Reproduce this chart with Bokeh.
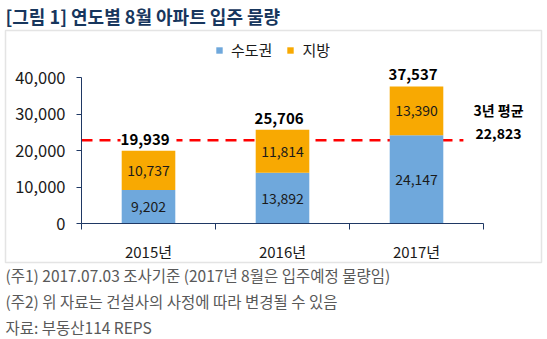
from bokeh.plotting import figure
from bokeh.models import (Range1d, FixedTicker, NumeralTickFormatter, Label, LabelSet,
                          ColumnDataSource, BoxAnnotation, Legend, LegendItem)
from bokeh.core.properties import value
from bokeh.embed import file_html
from bokeh.resources import INLINE

# ---- data ----
years = ["2015년", "2016년", "2017년"]
series_names = ["수도권", "지방"]
capital = [9202, 13892, 24147]
regional = [10737, 11814, 13390]
totals = [19939, 25706, 37537]
average = 22823
avg_title = "3년 평균"
y_ticks = [0, 10000, 20000, 30000, 40000]
title_text = "[그림 1] 연도별 8월 아파트 입주 물량"
notes = ["(주1) 2017.07.03 조사기준 (2017년 8월은 입주예정 물량임)",
         "(주2) 위 자료는 건설사의 사정에 따라 변경될 수 있음",
         "자료: 부동산114 REPS"]

# ---- style / layout ----
FONT = "Noto Sans CJK KR"
BLUE = "#6FA8DC"
ORANGE = "#F8A902"
NAVY = "#1F3864"
TEXT = "#1A1A1A"
GRAY = "#595959"

W, H = 547, 339
PL, PR, PT, PB = 81, 483, 77, 223          # plot area (canvas px)
YMAX = y_ticks[-1]
n = len(years)
xpx = (PR - PL) / n                          # px per category
ypx = (PB - PT) / YMAX                       # px per unit

x_range = Range1d(-PL / xpx, n + (W - PR) / xpx)
y_range = Range1d(-(H - PB) / ypx, YMAX + PT / ypx)

p = figure(width=W, height=H, x_range=x_range, y_range=y_range,
           output_backend="svg", toolbar_location=None, title=None,
           min_border=0, min_border_left=0, min_border_right=0,
           min_border_top=0, min_border_bottom=0)
p.outline_line_color = None
p.xgrid.visible = False
p.ygrid.visible = False
p.background_fill_color = "white"
p.border_fill_color = "white"


def sy(canvas_y):
    return H - canvas_y


xs = [i + 0.5 for i in range(n)]
src = ColumnDataSource(dict(
    x=xs, cap=capital, reg=regional, total=totals,
    cap_mid=[c / 2 for c in capital],
    reg_mid=[c + r / 2 for c, r in zip(capital, regional)],
    cap_lbl=[f"{v:,}" for v in capital],
    reg_lbl=[f"{v:,}" for v in regional],
    tot_lbl=[f" {v:,} " for v in totals],
))

# chart border box
p.add_layout(BoxAnnotation(left=5, right=541, top=sy(30), bottom=sy(262),
                           left_units="screen", right_units="screen",
                           top_units="screen", bottom_units="screen",
                           fill_alpha=0, line_color="#A6A6A6", line_width=1.5,
                           level="underlay"))

# average line (behind bars)
p.segment(x0=0, y0=average, x1=n - 0.15, y1=average, line_color="#FF0000",
          line_width=2.5, line_dash="11 7")

rs = p.vbar_stack(["cap", "reg"], x="x", width=0.4, color=[BLUE, ORANGE],
                  line_color=None, source=src)

# axes drawn at data zero
p.yaxis.fixed_location = 0
p.yaxis.bounds = (0, YMAX)
p.yaxis.ticker = FixedTicker(ticks=y_ticks)
p.yaxis.formatter = NumeralTickFormatter(format="0,0")
p.yaxis.major_tick_out = 5
p.yaxis.major_tick_in = 0
p.yaxis.minor_tick_line_color = None
p.yaxis.axis_line_color = NAVY
p.yaxis.major_tick_line_color = NAVY
p.yaxis.major_label_standoff = 11
p.yaxis.major_label_text_font = FONT
p.yaxis.major_label_text_font_size = "16.5px"
p.yaxis.major_label_text_color = TEXT

p.xaxis.fixed_location = 0
p.xaxis.bounds = (0, n)
p.xaxis.ticker = FixedTicker(ticks=xs, minor_ticks=list(range(n + 1)))
p.xaxis.major_label_overrides = {x: y for x, y in zip(xs, years)}
p.xaxis.major_tick_out = 0
p.xaxis.major_tick_in = 0
p.xaxis.minor_tick_out = 6
p.xaxis.minor_tick_in = 0
p.xaxis.minor_tick_line_color = NAVY
p.xaxis.axis_line_color = NAVY
p.xaxis.major_label_standoff = 11
p.xaxis.major_label_text_font = FONT
p.xaxis.major_label_text_font_size = "15px"
p.xaxis.major_label_text_color = TEXT

# value labels
for ycol, tcol in (("cap_mid", "cap_lbl"), ("reg_mid", "reg_lbl")):
    p.add_layout(LabelSet(x="x", y=ycol, text=tcol, source=src, text_align="center",
                          text_baseline="middle", text_font=value(FONT),
                          text_font_size=value("14px"), text_color=TEXT))
p.add_layout(LabelSet(x="x", y="total", text="tot_lbl", source=src, text_align="center",
                      text_baseline="alphabetic", y_offset=6, text_font=value(FONT),
                      text_font_size=value("15px"), text_font_style="bold",
                      text_color="black", background_fill_color="white"))

# average labels
p.add_layout(Label(x=n, y=average, x_offset=15, y_offset=30, text=avg_title,
                   text_align="center", text_baseline="middle", text_font=FONT,
                   text_font_size="14px", text_font_style="bold", text_color="black"))
p.add_layout(Label(x=n, y=average, x_offset=15, y_offset=7, text=f"{average:,}",
                   text_align="center", text_baseline="middle", text_font=FONT,
                   text_font_size="14px", text_font_style="bold", text_color="black"))

# legend
legend = Legend(items=[LegendItem(label=s, renderers=[r]) for s, r in zip(series_names, rs)],
                orientation="horizontal", location=(215, sy(60)))
legend.border_line_color = None
legend.background_fill_alpha = 0
legend.padding = 0
legend.margin = 0
legend.glyph_width = 8
legend.glyph_height = 8
legend.label_standoff = 8
legend.spacing = 14
legend.label_text_font = FONT
legend.label_text_font_size = "15px"
legend.label_text_color = TEXT
p.add_layout(legend)

# title and notes
p.add_layout(Label(x=5, y=sy(15), x_units="screen", y_units="screen", text=title_text,
                   text_baseline="middle", text_font=FONT, text_font_size="18px",
                   text_font_style="bold", text_color="#17365D"))
for i, t in enumerate(notes):
    p.add_layout(Label(x=5, y=sy(274 + 26 * i), x_units="screen", y_units="screen",
                       text=t, text_baseline="middle", text_font=FONT,
                       text_font_size="15.5px", text_color=GRAY))

open("out.html", "w").write(file_html(p, INLINE))
